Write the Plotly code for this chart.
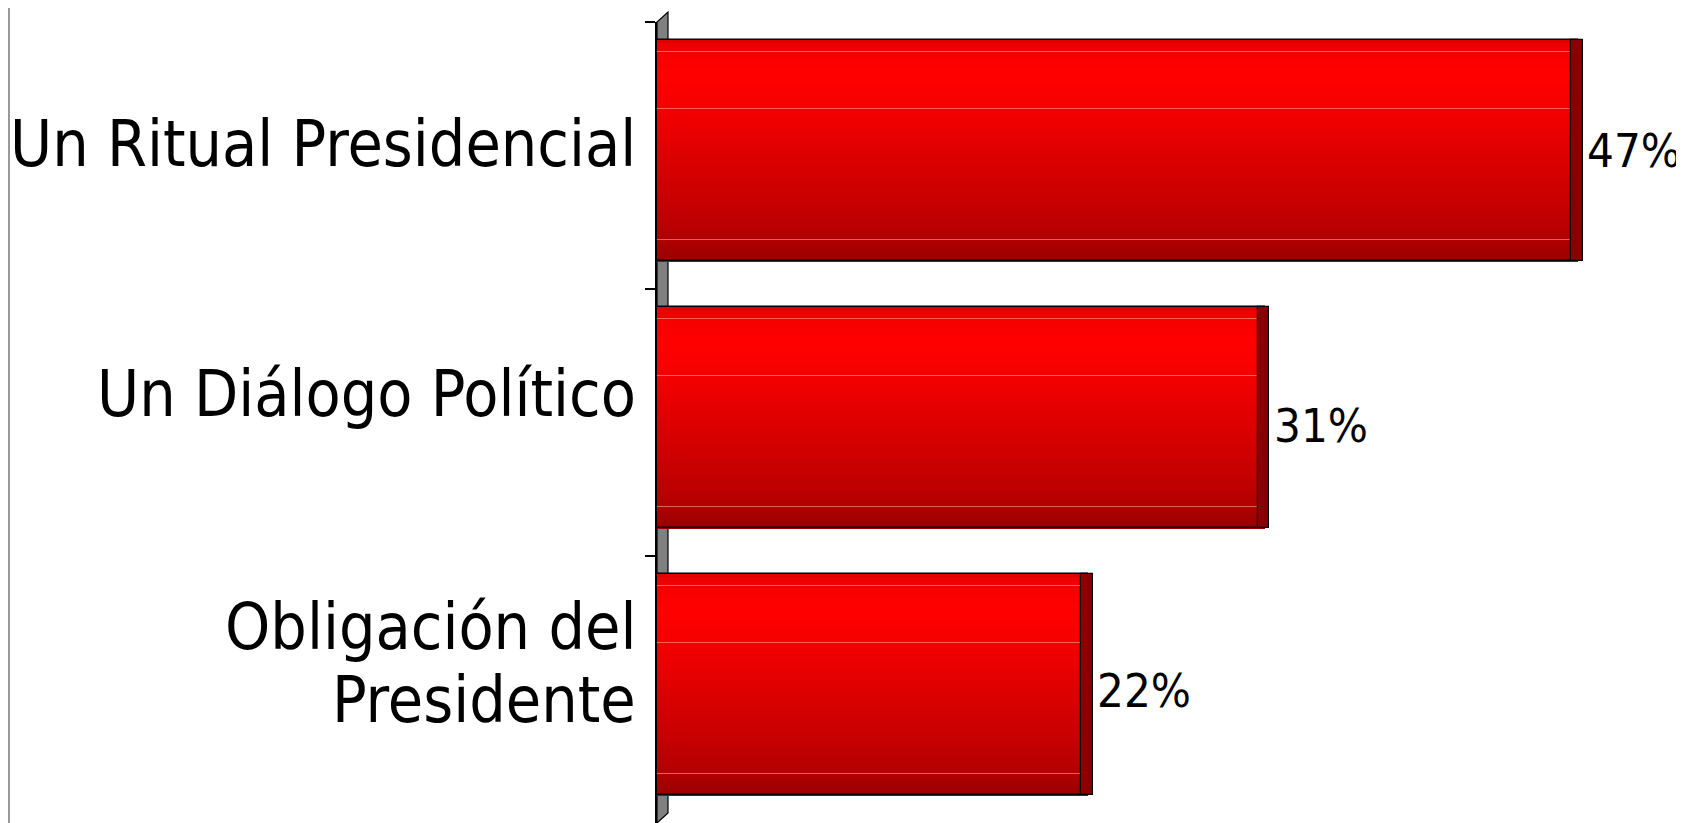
import plotly.graph_objects as go

# ---- data ----
categories = ["Un Ritual Presidencial", "Un Diálogo Político", "Obligación del Presidente"]
category_label_lines = [["Un Ritual Presidencial"], ["Un Diálogo Político"], ["Obligación del", "Presidente"]]
values = [47, 31, 22]
value_labels = ["47%", "31%", "22%"]

# ---- style ----
label_yshift = [[12], [29], [63, -10]]
value_yshift = [5, -3, -1]
BAR_W = 0.83
BAR_TOP = -0.434
stops = [(0.0, (216, 0, 0)), (0.03, (240, 0, 0)), (0.15, (255, 0, 0)), (0.28, (248, 0, 0)),
         (0.5, (224, 0, 0)), (0.75, (198, 0, 0)), (0.9, (178, 0, 0)), (1.0, (152, 0, 0))]
stripes = [0.05, 0.31, 0.90]


def grad(t):
    for (t0, c0), (t1, c1) in zip(stops[:-1], stops[1:]):
        if t0 <= t <= t1:
            f = (t - t0) / (t1 - t0) if t1 > t0 else 0
            return "rgb(%d,%d,%d)" % tuple(round(a + (b - a) * f) for a, b in zip(c0, c1))
    return "rgb(%d,%d,%d)" % stops[-1][1]


fig = go.Figure()
N = 60
bw = BAR_W / N
for k in range(N):
    fig.add_trace(go.Bar(
        y=categories, x=values, orientation="h",
        width=bw * 1.15, offset=BAR_TOP + k * bw,
        marker=dict(color=grad((k + 0.5) / N), line=dict(width=0)),
        hoverinfo="skip", showlegend=False))

for s in stripes:
    fig.add_trace(go.Bar(
        y=categories, x=values, orientation="h",
        width=0.004, offset=BAR_TOP + s * BAR_W,
        marker=dict(color="rgba(255,160,160,0.6)", line=dict(width=0)),
        hoverinfo="skip", showlegend=False))

# outline
fig.add_trace(go.Bar(
    y=categories, x=values, orientation="h",
    width=BAR_W, offset=BAR_TOP,
    marker=dict(color="rgba(0,0,0,0)", line=dict(color="black", width=1.5)),
    hoverinfo="skip", showlegend=False))

# end caps
cap_len = 0.6
fig.add_trace(go.Bar(
    y=categories, x=[cap_len] * len(values), base=[v - 0.36 for v in values],
    orientation="h", width=BAR_W, offset=BAR_TOP,
    marker=dict(color="#8a0000", line=dict(color="black", width=1.2)),
    hoverinfo="skip", showlegend=False))

# page body has an 8px margin: figure drawn 8px in from the window edge
OFF = 8
W, HT = 1684 - OFF, 823 - OFF
L, PW = 657 - OFF, 1000
T, H = 22 - OFF, 801

# value labels
for cat, v, lab, ys in zip(categories, values, value_labels, value_yshift):
    fig.add_annotation(
        xref="x", yref="y", x=v, y=cat, text=lab, xanchor="left", yanchor="middle",
        xshift=8, yshift=ys, showarrow=False, borderpad=0,
        font=dict(family="Liberation Sans Narrow, Arial Narrow, DejaVu Sans Condensed, sans-serif",
                  size=47, color="black"))

for cat, lines, shifts in zip(categories, category_label_lines, label_yshift):
    for line, ys in zip(lines, shifts):
        fig.add_annotation(
            xref="paper", yref="y", x=(638 - 657) / PW, y=cat, text=line,
            xanchor="right", yanchor="middle", align="right", showarrow=False,
            yshift=ys,
            font=dict(family="DejaVu Sans Condensed, DejaVu Sans, sans-serif", size=64, color="black"))

# 3D wall
fig.add_shape(type="path", xref="paper", yref="paper",
              path="M 0,0 L 0,1 L %f,%f L %f,%f Z" % (11 / PW, 1 + 10 / H, 11 / PW, 10 / H),
              fillcolor="#808080", line=dict(color="black", width=1.2), layer="below")
# left frame line
fig.add_shape(type="line", xref="paper", yref="paper",
              x0=(1 - L) / PW, x1=(1 - L) / PW, y0=-0.01, y1=1 + T / H,
              line=dict(color="#999999", width=2))

fig.update_layout(
    width=W, height=HT,
    margin=dict(l=L, r=W - L - PW, t=T, b=HT - T - H, pad=0, autoexpand=False),
    paper_bgcolor="white", plot_bgcolor="white",
    barmode="overlay", bargap=0,
    xaxis=dict(range=[0, PW / 19.6], visible=False, fixedrange=True, automargin=False),
    yaxis=dict(range=[2.5, -0.5], categoryorder="array", categoryarray=categories,
               showticklabels=False, ticks="outside", ticklen=10, tickwidth=1.5, tickcolor="black",
               tickson="boundaries", showline=True, linecolor="black", linewidth=1.5,
               showgrid=False, zeroline=False, fixedrange=True, automargin=False),
)

fig.write_html("out.html")
